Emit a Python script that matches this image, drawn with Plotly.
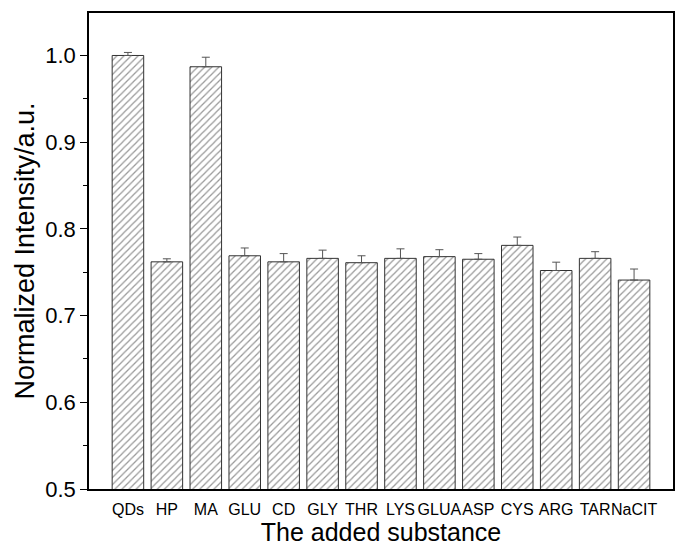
import plotly.graph_objects as go

categories = ["QDs", "HP", "MA", "GLU", "CD", "GLY", "THR", "LYS", "GLUA", "ASP", "CYS", "ARG", "TAR", "NaCIT"]
values = [1.000, 0.762, 0.987, 0.769, 0.762, 0.766, 0.761, 0.766, 0.768, 0.765, 0.781, 0.752, 0.766, 0.741]
errors = [0.0035, 0.0035, 0.011, 0.009, 0.0095, 0.0095, 0.008, 0.011, 0.008, 0.0065, 0.0096, 0.0096, 0.0077, 0.0127]
y_ticks = [0.5, 0.6, 0.7, 0.8, 0.9, 1.0]

fig = go.Figure()
fig.add_trace(go.Bar(
    x=categories,
    y=values,
    base=0,
    width=0.81,
    marker=dict(
        color="white",
        line=dict(color="#333333", width=1),
        pattern=dict(shape="/", fgcolor="#333333", bgcolor="white", size=5, solidity=0.25),
    ),
    error_y=dict(type="data", array=errors, arrayminus=[0] * len(errors), symmetric=False,
                 color="#555555", thickness=1, width=4),
))

fig.update_layout(
    width=680, height=547,
    margin=dict(l=89, r=5, t=13, b=58),
    paper_bgcolor="white", plot_bgcolor="white",
    font=dict(family="Liberation Sans, Arial, sans-serif", color="black"),
    showlegend=False,
)
fig.update_xaxes(
    type="category",
    range=[-1, 14],
    tickmode="array", tickvals=categories, ticktext=categories,
    tickangle=0,
    tickfont=dict(size=16),
    ticks="outside", ticklen=5, tickcolor="rgba(0,0,0,0)",
    showline=True, linecolor="black", linewidth=1.5, mirror=True,
    showgrid=False, zeroline=False,
    title=dict(text="The added substance", font=dict(size=25), standoff=5),
)
fig.update_yaxes(
    range=[0.5, 1.049],
    tickmode="array", tickvals=y_ticks, ticktext=[f"{v:.1f}" for v in y_ticks],
    tickfont=dict(size=22),
    ticks="outside", ticklen=7, tickwidth=1.2, tickcolor="black",
    minor=dict(ticks="outside", ticklen=4, tickwidth=1.2, tickcolor="black", dtick=0.05, tick0=0.5),
    showline=True, linecolor="black", linewidth=1.5, mirror=True,
    showgrid=False, zeroline=False,
    title=dict(text="Normalized Intensity/a.u.", font=dict(size=27), standoff=3),
)

fig.write_html("out.html")
